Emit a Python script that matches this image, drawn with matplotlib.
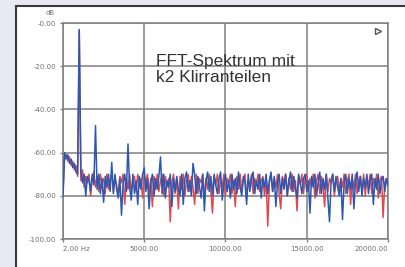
import numpy as np
import matplotlib
matplotlib.use("Agg")
import matplotlib.pyplot as plt
from matplotlib.patches import Rectangle
from matplotlib.lines import Line2D

# frequency grid (Hz), 100 Hz steps, first bin at 2 Hz
freq_step = 100
n_bins = 201

# noise floor of both channels in dB
blue_db = [
    -80, -60, -63, -61, -65, -63, -67, -65, -69, -70,
    -72, -69, -74, -70, -80, -71, -73, -78, -70, -75,
    -72, -77, -70, -79, -72, -83, -71, -76, -70, -78,
    -73, -79, -70, -77, -81, -72, -89, -74, -70, -78,
    -72, -76, -82, -70, -79, -73, -84, -71, -77, -70,
    -69, -78, -72, -86, -74, -70, -80, -72, -77, -71,
    -72, -79, -70, -81, -73, -76, -70, -85, -72, -78,
    -71, -77, -80, -70, -84, -72, -69, -78, -73, -80,
    -72, -70, -79, -71, -76, -81, -70, -87, -73, -69,
    -78, -71, -80, -70, -75, -79, -72, -69, -82, -74,
    -70, -78, -73, -81, -70, -77, -72, -79, -69, -76,
    -80, -71, -74, -84, -70, -78, -72, -69, -79, -73,
    -77, -70, -81, -72, -76, -70, -79, -73, -69, -78,
    -71, -85, -74, -70, -79, -72, -77, -70, -80, -73,
    -69, -78, -71, -76, -81, -70, -74, -79, -72, -70,
    -78, -73, -88, -71, -76, -70, -80, -74, -69, -79,
    -72, -77, -70, -81, -92, -73, -70, -78, -71, -76,
    -80, -72, -91, -74, -70, -79, -72, -77, -70, -86,
    -73, -69, -78, -71, -80, -72, -76, -70, -79, -73,
    -70, -84, -72, -77, -70, -79, -73, -71, -78, -72,
    -75,
]
red_db = [
    -78, -62, -61, -64, -62, -66, -64, -68, -66, -71,
    -70, -73, -68, -76, -71, -74, -70, -80, -72, -69,
    -76, -71, -78, -70, -74, -72, -79, -70, -77, -73,
    -70, -78, -72, -75, -80, -71, -74, -70, -84, -72,
    -77, -70, -79, -73, -71, -78, -70, -76, -72, -81,
    -71, -74, -70, -79, -72, -85, -71, -77, -70, -78,
    -73, -70, -80, -71, -76, -72, -92, -74, -70, -79,
    -72, -86, -71, -77, -70, -80, -73, -70, -78, -71,
    -76, -84, -70, -79, -72, -74, -70, -81, -72, -77,
    -70, -78, -88, -71, -75, -70, -79, -72, -76, -70,
    -80, -72, -74, -70, -79, -73, -85, -71, -77, -70,
    -78, -72, -70, -81, -73, -76, -70, -79, -72, -75,
    -70, -78, -73, -71, -80, -72, -94, -74, -70, -78,
    -72, -76, -70, -79, -86, -71, -74, -70, -80, -72,
    -77, -70, -78, -73, -87, -71, -75, -70, -79, -72,
    -70, -78, -72, -76, -70, -81, -73, -70, -79, -71,
    -75, -85, -70, -78, -72, -74, -70, -80, -73, -71,
    -78, -72, -76, -70, -79, -73, -70, -84, -72, -77,
    -70, -79, -73, -71, -78, -70, -80, -72, -75, -70,
    -79, -72, -76, -70, -81, -73, -71, -90, -74, -72,
    -76,
]

# fundamental and distortion lines
blue_peak_hz = [1000, 2000, 3000, 4000, 5000, 6000, 8000]
blue_peak_db = [-3, -47.5, -64.5, -56, -67, -62, -65]
red_peak_hz = [1000]
red_peak_db = [-3.5]

y_ticks = [0, -20, -40, -60, -80, -100]
y_labels = ["-0.00", "-20.00", "-40.00", "-60.00", "-80.00", "-100.00"]
x_ticks = [0, 5000, 10000, 15000, 20000]
x_labels = ["2.00 Hz", "5000.00", "10000.00", "15000.00", "20000.00"]

title_lines = ["FFT-Spektrum mit", "k2 Klirranteilen"]

W, H = 406, 267


def add_peaks(values, peak_hz, peak_db):
    vals = np.array(values, dtype=float)
    for f, d in zip(peak_hz, peak_db):
        vals[int(round(f / freq_step))] = d
    return vals


freqs = np.arange(n_bins) * freq_step
freqs = freqs.astype(float)
freqs[0] = 2.0

blue = add_peaks(blue_db, blue_peak_hz, blue_peak_db)
red = add_peaks(red_db, red_peak_hz, red_peak_db)

fig = plt.figure(figsize=(W / 100, H / 100), dpi=100)
fig.patch.set_facecolor("#e9e9f4")

# white panel with dark top/left border
fig.patches.append(Rectangle((16 / W, 0), 1 - 16 / W, 1 - 6 / H,
                             transform=fig.transFigure, facecolor="white",
                             edgecolor="none", zorder=-2))
fig.lines.append(Line2D([16 / W, 16 / W], [0, 1 - 6 / H], transform=fig.transFigure,
                        color="#3a3a3a", lw=1.5, zorder=-1))
fig.lines.append(Line2D([16 / W, 1], [1 - 6 / H, 1 - 6 / H], transform=fig.transFigure,
                        color="#3a3a3a", lw=1.5, zorder=-1))

ax = fig.add_axes([63 / W, 1 - 239 / H, (388 - 63) / W, (239 - 23) / H])
ax.set_zorder(2)
ax.set_facecolor("white")

ax.plot(freqs, red, color="#e2474c", lw=1.1, zorder=3)
ax.plot(freqs, blue, color="#2c58b4", lw=1.1, zorder=4)

ax.set_xlim(0, 20000)
ax.set_ylim(-100, 0)
ax.set_yticks(y_ticks)
ax.set_yticklabels(y_labels)
ax.set_xticks(x_ticks)
ax.set_xticklabels(x_labels)
ax.grid(True, color="#7f7f7f", lw=1.1)
ax.set_axisbelow(True)
for s in ax.spines.values():
    s.set_color("#7f7f7f")
    s.set_linewidth(1.1)
ax.tick_params(axis="both", length=2, width=1, color="#7f7f7f",
               labelsize=5, labelcolor="#707070", pad=3)
xl = ax.get_xticklabels()
xl[0].set_horizontalalignment("left")
xl[-1].set_horizontalalignment("right")

fig.text(50 / W, 1 - 13 / H, "dB", fontsize=5, color="#707070",
         ha="center", va="center")

for k, line in enumerate(title_lines):
    fig.text(156 / W, 1 - (66 + 16.5 * k) / H, line, fontsize=12.5,
             color="#333333", family="Liberation Sans", ha="left",
             va="baseline", zorder=5)

# little marker symbol in the upper right corner
ax.plot([19400], [-3.5], marker=">", ms=5, mfc="none", mec="#555555", mew=1,
        clip_on=False, zorder=5)

fig.savefig("out.png", dpi=100, facecolor=fig.get_facecolor())
